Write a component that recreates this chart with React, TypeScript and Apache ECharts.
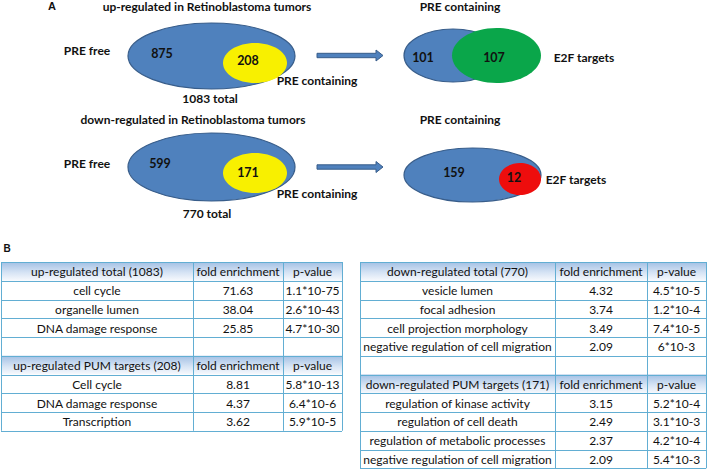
import React, { useEffect, useRef } from "react";
import * as echarts from "echarts";

// ---------- Panel A data ----------
const upTitle = "up-regulated in Retinoblastoma tumors";
const downTitle = "down-regulated in Retinoblastoma tumors";
const preContainingTitle = "PRE containing";
const upCounts = { preFree: 875, preContaining: 208, total: 1083 };
const downCounts = { preFree: 599, preContaining: 171, total: 770 };
const upE2F = { nonTarget: 101, target: 107 };
const downE2F = { nonTarget: 159, target: 12 };

// ---------- Panel B data ----------
const upTotalHeader = ["up-regulated total (1083)", "fold enrichment", "p-value"];
const upTotalTerms = ["cell cycle", "organelle lumen", "DNA damage response"];
const upTotalFold = [71.63, 38.04, 25.85];
const upTotalP = ["1.1*10-75", "2.6*10-43", "4.7*10-30"];

const upPumHeader = ["up-regulated PUM targets (208)", "fold enrichment", "p-value"];
const upPumTerms = ["Cell cycle", "DNA damage response", "Transcription"];
const upPumFold = [8.81, 4.37, 3.62];
const upPumP = ["5.8*10-13", "6.4*10-6", "5.9*10-5"];

const downTotalHeader = ["down-regulated total (770)", "fold enrichment", "p-value"];
const downTotalTerms = ["vesicle lumen", "focal adhesion", "cell projection morphology", "negative regulation of cell migration"];
const downTotalFold = [4.32, 3.74, 3.49, 2.09];
const downTotalP = ["4.5*10-5", "1.2*10-4", "7.4*10-5", "6*10-3"];

const downPumHeader = ["down-regulated PUM targets (171)", "fold enrichment", "p-value"];
const downPumTerms = ["regulation of kinase activity", "regulation of cell death", "regulation of metabolic processes", "negative regulation of cell migration"];
const downPumFold = [3.15, 2.49, 2.37, 2.09];
const downPumP = ["5.2*10-4", "3.1*10-3", "4.2*10-4", "5.4*10-3"];

const BLUE = "#4f81bd";
const BLUE_EDGE = "#385d8a";
const YELLOW = "#f8f000";
const GREEN = "#0aa64a";
const RED = "#ee0d0d";
const TEXT = "#111111";
const GRID = "#62aed3";
const FONT = "Lato, 'Open Sans', sans-serif";

type Row = { kind: "header" | "row" | "blank"; cells: string[] };

function buildRows(header: string[], terms: string[], fold: number[], p: string[]): Row[] {
  const rows: Row[] = [{ kind: "header", cells: header }];
  terms.forEach((t, i) => rows.push({ kind: "row", cells: [t, fold[i].toFixed(2), p[i]] }));
  return rows;
}

function text(x: number, y: number, s: string, size: number, weight: string, align = "center", fam = FONT) {
  return {
    type: "text",
    x,
    y,
    silent: true,
    z: 10,
    style: {
      text: s,
      fill: TEXT,
      fontSize: size,
      fontWeight: weight,
      fontFamily: fam,
      textAlign: align,
      textVerticalAlign: "middle",
    },
  };
}

function ellipse(cx: number, cy: number, rx: number, ry: number, fill: string, stroke?: string, z = 1) {
  return {
    type: "ellipse",
    z,
    shape: { cx, cy, rx, ry },
    style: { fill, stroke: stroke || null, lineWidth: stroke ? 1.2 : 0 },
  };
}

function arrow(x0: number, x1: number, cy: number) {
  const head = 7;
  return {
    type: "polygon",
    z: 2,
    shape: {
      points: [
        [x0, cy - 2.2],
        [x1 - head, cy - 2.2],
        [x1 - head, cy - 5.5],
        [x1, cy],
        [x1 - head, cy + 5.5],
        [x1 - head, cy + 2.2],
        [x0, cy + 2.2],
      ],
    },
    style: { fill: BLUE, stroke: BLUE_EDGE, lineWidth: 1 },
  };
}

function table(x0: number, cols: number[], top: number, rowH: number, rows: Row[]) {
  const els: any[] = [];
  const edges = [x0, ...cols];
  const right = edges[edges.length - 1];
  const bottom = top + rows.length * rowH;
  rows.forEach((r, i) => {
    const y = top + i * rowH;
    if (r.kind === "header") {
      els.push({
        type: "rect",
        z: 3,
        shape: { x: x0, y, width: right - x0, height: rowH },
        style: {
          fill: new echarts.graphic.LinearGradient(0, 0, 0, 1, [
            { offset: 0, color: "#a3c0e4" },
            { offset: 0.55, color: "#d5e3f4" },
            { offset: 1, color: "#f7f9fd" },
          ]),
        },
      });
    }
    r.cells.forEach((c, j) => {
      const cx = (edges[j] + edges[j + 1]) / 2;
      els.push(text(cx, y + rowH / 2 + 0.5, c, 12, "normal"));
    });
  });
  for (let i = 0; i <= rows.length; i++) {
    const y = Math.round(top + i * rowH) + 0.5;
    els.push({ type: "line", z: 5, shape: { x1: x0, y1: y, x2: right, y2: y }, style: { stroke: GRID, lineWidth: 1 } });
  }
  edges.forEach((x) => {
    els.push({ type: "line", z: 5, shape: { x1: x + 0.5, y1: top, x2: x + 0.5, y2: bottom }, style: { stroke: GRID, lineWidth: 1 } });
  });
  return els;
}

export default function App() {
  const ref = useRef<HTMLDivElement>(null);
  useEffect(() => {
    document.body.style.margin = "0";
    if (!ref.current) return;
    const chart = echarts.init(ref.current, null, { renderer: "svg" });

    const els: any[] = [];
    // Panel labels
    els.push(text(52, 6, "A", 11, "bold", "center", "Arial, 'Liberation Sans', sans-serif"));
    els.push(text(7, 248, "B", 10, "bold", "center", "Arial, 'Liberation Sans', sans-serif"));

    // Upper row
    els.push(text(207, 6, upTitle, 12, "bold"));
    els.push(text(460, 6, preContainingTitle, 12, "bold"));
    els.push(ellipse(211.5, 56, 83.5, 33, BLUE, BLUE_EDGE, 1));
    els.push(ellipse(255, 63, 32, 20, YELLOW, undefined, 2));
    els.push(text(87, 50, "PRE free", 12, "bold"));
    els.push(text(162, 53, String(upCounts.preFree), 12.5, "bold"));
    els.push(text(248, 60, String(upCounts.preContaining), 12.5, "bold"));
    els.push(text(317, 80, "PRE containing", 12, "bold"));
    els.push(text(210, 98, `${upCounts.total} total`, 12, "bold"));
    els.push(arrow(317, 383, 55.5));
    els.push(ellipse(453, 55.5, 49, 26.5, BLUE, BLUE_EDGE, 1));
    els.push(ellipse(496.5, 55.5, 44.5, 27.5, GREEN, undefined, 2));
    els.push(text(423, 57, String(upE2F.nonTarget), 12.5, "bold"));
    els.push(text(494, 57, String(upE2F.target), 12.5, "bold"));
    els.push(text(584, 57, "E2F targets", 12, "bold"));

    // Lower row
    els.push(text(193, 119, downTitle, 12, "bold"));
    els.push(text(460, 119, preContainingTitle, 12, "bold"));
    els.push(ellipse(211.5, 167, 83.5, 34, BLUE, BLUE_EDGE, 1));
    els.push(ellipse(255, 173, 32, 20, YELLOW, undefined, 2));
    els.push(text(87, 163, "PRE free", 12, "bold"));
    els.push(text(160, 163, String(downCounts.preFree), 12.5, "bold"));
    els.push(text(248, 172, String(downCounts.preContaining), 12.5, "bold"));
    els.push(text(317, 193, "PRE containing", 12, "bold"));
    els.push(text(207, 213, `${downCounts.total} total`, 12, "bold"));
    els.push(arrow(317, 383, 167));
    els.push(ellipse(472.5, 175, 68.5, 27, BLUE, BLUE_EDGE, 1));
    els.push(ellipse(520, 179, 21, 16, RED, undefined, 2));
    els.push(text(454, 172, String(downE2F.nonTarget), 12.5, "bold"));
    els.push(text(514, 177, String(downE2F.target), 12.5, "bold"));
    els.push(text(576, 179, "E2F targets", 12, "bold"));

    // Panel B tables
    const rowH = 18.75;
    const leftRows: Row[] = [
      ...buildRows(upTotalHeader, upTotalTerms, upTotalFold, upTotalP),
      { kind: "blank", cells: ["", "", ""] },
      ...buildRows(upPumHeader, upPumTerms, upPumFold, upPumP),
    ];
    const rightRows: Row[] = [
      ...buildRows(downTotalHeader, downTotalTerms, downTotalFold, downTotalP),
      { kind: "blank", cells: ["", "", ""] },
      ...buildRows(downPumHeader, downPumTerms, downPumFold, downPumP),
    ];
    els.push(...table(1, [193, 283, 342], 262, rowH, leftRows));
    els.push(...table(360, [555, 647, 706], 262, rowH, rightRows));

    chart.setOption({
      animation: false,
      backgroundColor: "#ffffff",
      graphic: { elements: els },
    });
    return () => chart.dispose();
  }, []);
  return <div ref={ref} style={{ width: 708, height: 471 }} />;
}
